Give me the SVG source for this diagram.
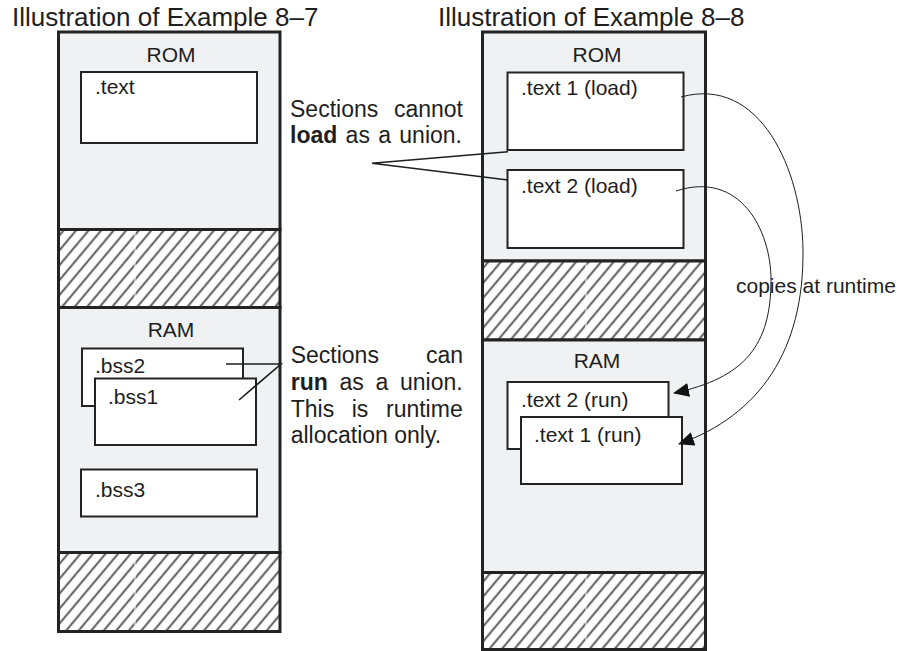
<svg xmlns="http://www.w3.org/2000/svg" width="906" height="651" viewBox="0 0 906 651">
<style>
text{font-family:"Liberation Sans",Arial,Helvetica,sans-serif;fill:#1e1e1e}
.title{font-size:26px}
.lbl{font-size:21px}
.note{font-size:23px}
.b{font-weight:bold}
.region{fill:#f0f1f3;stroke:#232323;stroke-width:3}
.hatch{fill:url(#hatch);stroke:#232323;stroke-width:3}
.sec{fill:#ffffff;stroke:#232323;stroke-width:2}
.lead{fill:none;stroke:#1e1e1e;stroke-width:1.6}
.copy{fill:none;stroke:#1e1e1e;stroke-width:1}
.seam{stroke:#ffffff;stroke-width:1}
</style>
<defs>
<pattern id="hatch" patternUnits="userSpaceOnUse" width="9.6" height="10" patternTransform="rotate(40)">
<rect width="9.6" height="10" fill="#ffffff"/>
<line x1="4.8" y1="-1" x2="4.8" y2="11" stroke="#6a6a6a" stroke-width="2.2"/>
</pattern>
<marker id="arr" markerUnits="userSpaceOnUse" markerWidth="16" markerHeight="14" viewBox="0 0 16 14" refX="15" refY="7" orient="auto">
<path d="M0,0 L16,7 L0,14 Z" fill="#111111"/>
</marker>
</defs>

<text class="title" x="12" y="26">Illustration of Example 8–7</text>
<text class="title" x="438" y="26">Illustration of Example 8–8</text>

<!-- Left memory map -->
<g id="left-rom">
<rect class="region" x="58.5" y="32" width="221.5" height="197.5"/>
<text class="lbl" x="171" y="62" text-anchor="middle">ROM</text>
</g>
<g id="left-text">
<rect class="sec" x="81" y="72" width="176" height="71"/>
<text class="lbl" x="95" y="94">.text</text>
</g>
<g id="left-gap1">
<rect class="hatch" x="58.5" y="229.5" width="221.5" height="78"/>
<line class="seam" x1="135" y1="231.5" x2="135" y2="305.5"/>
</g>
<g id="left-ram">
<rect class="region" x="58.5" y="307.5" width="221.5" height="245"/>
<text class="lbl" x="171" y="337" text-anchor="middle">RAM</text>
</g>
<g id="left-bss2">
<rect class="sec" x="82" y="348.5" width="161" height="57.5"/>
<text class="lbl" x="95" y="373">.bss2</text>
</g>
<g id="left-bss1">
<rect class="sec" x="95" y="378.5" width="161" height="66.5"/>
<text class="lbl" x="108" y="404">.bss1</text>
</g>
<g id="left-bss3">
<rect class="sec" x="81" y="469.5" width="176" height="47"/>
<text class="lbl" x="95" y="497">.bss3</text>
</g>
<g id="left-gap2">
<rect class="hatch" x="58.5" y="552.5" width="221.5" height="79"/>
<line class="seam" x1="135" y1="554.5" x2="135" y2="629.5"/>
</g>

<!-- Right memory map -->
<g id="right-rom">
<rect class="region" x="482.5" y="32" width="223" height="229"/>
<text class="lbl" x="597" y="62" text-anchor="middle">ROM</text>
</g>
<g id="right-text1-load">
<rect class="sec" x="507.5" y="72.5" width="176" height="77.5"/>
<text class="lbl" x="521" y="95">.text 1 (load)</text>
</g>
<g id="right-text2-load">
<rect class="sec" x="507.5" y="170" width="176" height="78"/>
<text class="lbl" x="521" y="193">.text 2 (load)</text>
</g>
<g id="right-gap1">
<rect class="hatch" x="482.5" y="261" width="223" height="79"/>
<line class="seam" x1="586" y1="263" x2="586" y2="338"/>
</g>
<g id="right-ram">
<rect class="region" x="482.5" y="340" width="223" height="232.5"/>
<text class="lbl" x="597" y="368" text-anchor="middle">RAM</text>
</g>
<g id="right-text2-run">
<rect class="sec" x="507.5" y="382" width="161" height="67"/>
<text class="lbl" x="521" y="407">.text 2 (run)</text>
</g>
<g id="right-text1-run">
<rect class="sec" x="521" y="417" width="161" height="67"/>
<text class="lbl" x="534" y="442">.text 1 (run)</text>
</g>
<g id="right-gap2">
<rect class="hatch" x="482.5" y="572.5" width="223" height="77"/>
<line class="seam" x1="586" y1="574.5" x2="586" y2="647.5"/>
</g>

<!-- Annotations -->
<g id="note-load">
<text class="note" x="290" y="117">Sections</text>
<text class="note" x="463" y="117" text-anchor="end">cannot</text>
<text class="note b" x="290" y="143">load</text>
<text class="note" x="345.6" y="143">as</text>
<text class="note" x="378.2" y="143">a</text>
<text class="note" x="462" y="143" text-anchor="end">union.</text>
</g>
<g id="note-run">
<text class="note" x="290.7" y="363">Sections</text>
<text class="note" x="463" y="363" text-anchor="end">can</text>
<text class="note b" x="290.7" y="390">run</text>
<text class="note" x="339.4" y="390">as</text>
<text class="note" x="375.4" y="390">a</text>
<text class="note" x="462.7" y="390" text-anchor="end">union.</text>
<text class="note" x="290.7" y="417">This</text>
<text class="note" x="351.7" y="417">is</text>
<text class="note" x="462.7" y="417" text-anchor="end">runtime</text>
<text class="note" x="290.7" y="443">allocation only.</text>
</g>
<g id="note-copy">
<text class="lbl" x="736" y="293">copies at runtime</text>
</g>

<!-- Connectors -->
<g id="connectors">
<polyline class="lead" points="508,151.7 372,163.3 508,180"/>
<polyline class="lead" points="226,364 281,364 239,400"/>
<path class="copy" d="M681,97 C760,75 802,170 803,250 C804,350 760,415 679,444" marker-end="url(#arr)"/>
<path class="copy" d="M676,191 C740,170 771,230 771,280 C771,345 745,378 674,393" marker-end="url(#arr)"/>
</g>
</svg>
